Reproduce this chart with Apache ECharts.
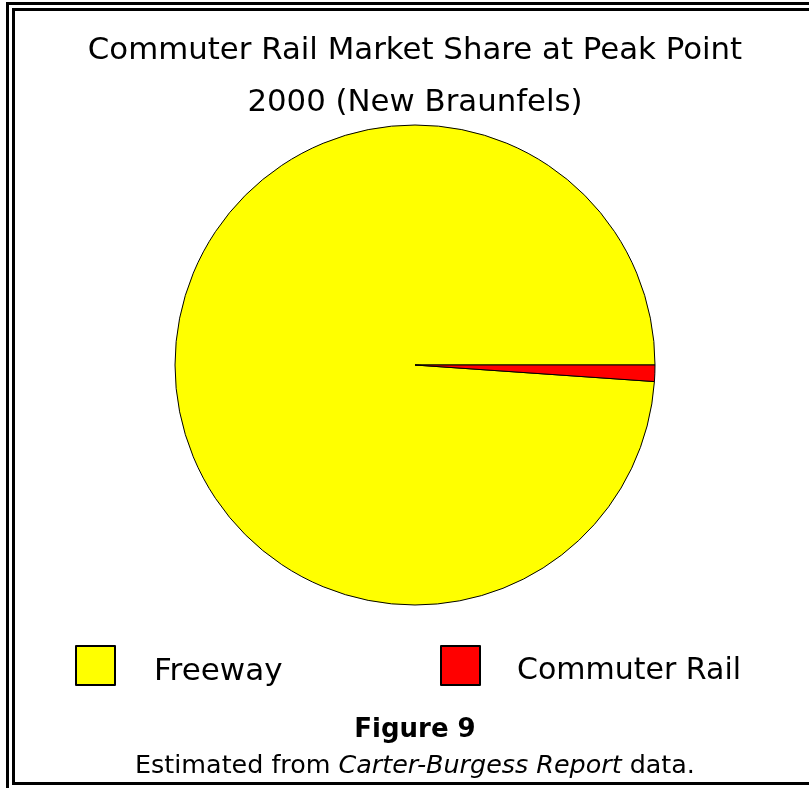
<!DOCTYPE html>
<html>
<head>
<meta charset="utf-8">
<script src="https://cdn.jsdelivr.net/npm/echarts@6/dist/echarts.min.js"></script>
<style>
html,body{margin:0;padding:0;background:#fff;}
#c{width:809px;height:788px;}
</style>
</head>
<body>
<div id="c"></div>
<script>
const categories = ['Freeway', 'Commuter Rail'];
const shares = [98.9, 1.1];
const colors = ['#ffff00', '#ff0000'];
const titleLines = ['Commuter Rail Market Share at Peak Point', '2000 (New Braunfels)'];
const figureLabel = 'Figure 9';
const sourceParts = ['Estimated from ', 'Carter-Burgess Report', ' data.'];

const FONT = '"DejaVu Sans"';
const CX = 415;
const chart = echarts.init(document.getElementById('c'), null, {renderer: 'canvas'});

function legendCfg(name, left, size, gap) {
  return {
    data: [name],
    left: left, top: 640,
    icon: 'rect', itemWidth: 39, itemHeight: 39,
    selectedMode: false,
    formatter: '{t|{name}}',
    textStyle: {
      fontFamily: 'DejaVu Sans', fontSize: size, color: '#000',
      rich: {t: {fontFamily: 'DejaVu Sans', fontSize: size, color: '#000', padding: [12, 0, 0, gap]}}
    }
  };
}

const option = {
  backgroundColor: '#ffffff',
  animation: false,
  legend: [
    legendCfg(categories[0], 70, 31, 34),
    legendCfg(categories[1], 435, 30, 32)
  ],
  graphic: [
    {type: 'rect', shape: {x: 7.5, y: 3.5, width: 900, height: 900}, style: {fill: 'none', stroke: '#000', lineWidth: 3}, silent: true},
    {type: 'rect', shape: {x: 13.5, y: 9.5, width: 900, height: 774}, style: {fill: 'none', stroke: '#000', lineWidth: 3}, silent: true},
    {type: 'text', silent: true, style: {text: titleLines[0], x: CX, y: 51, textAlign: 'center', textVerticalAlign: 'middle', font: '30.8px ' + FONT, fill: '#000'}},
    {type: 'text', silent: true, style: {text: titleLines[1], x: CX, y: 103, textAlign: 'center', textVerticalAlign: 'middle', font: '30.8px ' + FONT, fill: '#000'}},
    {type: 'text', silent: true, style: {text: figureLabel, x: CX, y: 730, textAlign: 'center', textVerticalAlign: 'middle', font: 'bold 26px ' + FONT, fill: '#000'}},
    {type: 'text', silent: true, style: {
      text: '{n|' + sourceParts[0] + '}{i|' + sourceParts[1] + '}{n|' + sourceParts[2] + '}',
      x: CX, y: 766, textAlign: 'center', textVerticalAlign: 'middle',
      rich: {
        n: {fontFamily: 'DejaVu Sans', fontSize: 25.4, fill: '#000', color: '#000'},
        i: {fontFamily: 'DejaVu Sans', fontSize: 25.4, fontStyle: 'italic', fill: '#000', color: '#000'}
      }
    }}
  ],
  series: [
    {
      type: 'pie',
      center: [415, 365],
      radius: [0, 240],
      startAngle: 0,
      clockwise: false,
      silent: true,
      label: {show: false},
      labelLine: {show: false},
      emphasis: {disabled: true},
      itemStyle: {borderColor: '#000', borderWidth: 1},
      data: categories.map((c, i) => ({name: c, value: shares[i], itemStyle: {color: colors[i]}}))
    }
  ]
};
chart.setOption(option);
</script>
</body>
</html>
